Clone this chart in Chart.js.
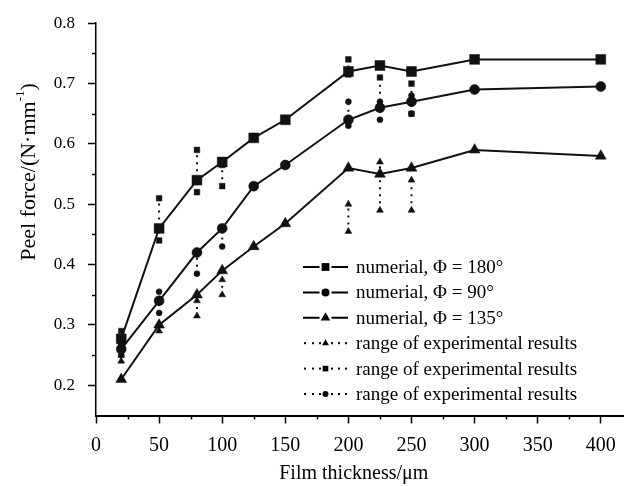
<!DOCTYPE html>
<html><head><meta charset="utf-8">
<script src="https://cdn.jsdelivr.net/npm/chart.js@4.4.0/dist/chart.umd.min.js"></script>
<style>html,body{margin:0;padding:0;background:#fff;}canvas{display:block;}</style>
</head><body>
<canvas id="c" width="631" height="486"></canvas>
<script>
// ---- data ----
const thickness = [20, 50, 80, 100, 125, 150, 200, 225, 250, 300, 400];
const force180 = [0.277, 0.46, 0.54, 0.57, 0.61, 0.64, 0.72, 0.73, 0.72, 0.74, 0.74];
const force90  = [0.26, 0.34, 0.42, 0.46, 0.53, 0.565, 0.64, 0.66, 0.67, 0.69, 0.695];
const force135 = [0.21, 0.30, 0.35, 0.39, 0.43, 0.468, 0.56, 0.55, 0.56, 0.59, 0.58];

const expThickness = [20, 50, 80, 100, 200, 225, 250];
const exp180Min = [0.265, 0.44, 0.52, 0.53, 0.715, 0.66, 0.65];
const exp180Max = [0.29, 0.51, 0.59, 0.565, 0.74, 0.71, 0.70];
const exp90Min  = [0.25, 0.32, 0.385, 0.43, 0.63, 0.64, 0.65];
const exp90Max  = [0.27, 0.355, 0.42, 0.46, 0.67, 0.67, 0.68];
const exp135Min = [0.24, 0.29, 0.315, 0.35, 0.455, 0.49, 0.49];
const exp135Max = [0.25, 0.30, 0.34, 0.375, 0.50, 0.57, 0.54];

const xTicks = [0, 50, 100, 150, 200, 250, 300, 350, 400];
const yTicks = [0.2, 0.3, 0.4, 0.5, 0.6, 0.7, 0.8];
const xTitle = 'Film thickness/\u03bcm';
const yTitle = 'Peel force/(N\u00b7mm';
const yTitleSup = '-1';
const legendLabels = [
  'numerial, \u03a6 = 180\u00b0',
  'numerial, \u03a6 = 90\u00b0',
  'numerial, \u03a6 = 135\u00b0',
  'range of experimental results',
  'range of experimental results',
  'range of experimental results'
];

const FONT = "'Liberation Serif','Times New Roman',serif";

function pairs(xs, ys){ return xs.map((x,i)=>({x:x, y:ys[i]})); }
function ranges(xs, lo, hi){
  const out=[];
  xs.forEach((x,i)=>{ out.push({x:x,y:lo[i]}); out.push({x:x,y:hi[i]}); out.push({x:x,y:null}); });
  return out;
}

const mainStyle = (label, data, style, r) => ({
  label, data, pointStyle: style, pointRadius: r, pointHoverRadius: r,
  borderColor:'#111', backgroundColor:'#111', pointBackgroundColor:'#111', pointBorderColor:'#111',
  borderWidth: 2, pointBorderWidth: 0.5, tension: 0, order: 1
});
const expStyle = (label, data, style, r) => ({
  label, data, pointStyle: style, pointRadius: r, pointHoverRadius: r,
  borderColor:'#111', backgroundColor:'#111', pointBackgroundColor:'#111', pointBorderColor:'#111',
  borderWidth: 2, borderDash:[2,5], pointBorderWidth: 0.5, spanGaps:false, tension:0, order: 2
});

const datasets = [
  mainStyle(legendLabels[0], pairs(thickness, force180), 'rect', 7),
  mainStyle(legendLabels[1], pairs(thickness, force90), 'circle', 5),
  mainStyle(legendLabels[2], pairs(thickness, force135), 'triangle', 6.3),
  expStyle(legendLabels[3], ranges(expThickness, exp135Min, exp135Max), 'triangle', 4),
  expStyle(legendLabels[4], ranges(expThickness, exp180Min, exp180Max), 'rect', 4),
  expStyle(legendLabels[5], ranges(expThickness, exp90Min, exp90Max), 'circle', 3)
];

function marker(ctx, style, x, y, r){
  ctx.beginPath();
  if (style==='rect'){ const s=Math.SQRT1_2*r; ctx.rect(x-s,y-s,2*s,2*s); }
  else if (style==='circle'){ ctx.arc(x,y,r,0,Math.PI*2); }
  else { ctx.moveTo(x, y-r); ctx.lineTo(x+r*0.866, y+r*0.5); ctx.lineTo(x-r*0.866, y+r*0.5); ctx.closePath(); }
  ctx.fill();
}

const decor = {
  id:'decor',
  afterDraw(chart){
    const ctx = chart.ctx, xs = chart.scales.x, ys = chart.scales.y;
    ctx.save();
    ctx.strokeStyle = '#000'; ctx.fillStyle = '#000'; ctx.lineWidth = 1.5;
    // minor ticks
    for (let v=25; v<xs.max; v+=50){
      const px = Math.round(xs.getPixelForValue(v))+0.5;
      ctx.beginPath(); ctx.moveTo(px, ys.bottom); ctx.lineTo(px, ys.bottom+4); ctx.stroke();
    }
    for (let v=0.25; v<0.8; v+=0.1){
      const py = Math.round(ys.getPixelForValue(v))+0.5;
      ctx.beginPath(); ctx.moveTo(xs.left, py); ctx.lineTo(xs.left-4, py); ctx.stroke();
    }
    // axis titles
    ctx.font = '20px ' + FONT; ctx.textAlign='center'; ctx.textBaseline='middle';
    ctx.fillText(xTitle, (xs.left+xs.right)/2 - 6, 474);
    ctx.save();
    ctx.translate(29, 172); ctx.rotate(-Math.PI/2);
    const big = '22px ' + FONT, small = '13px ' + FONT;
    ctx.font = big;
    const w1 = ctx.measureText(yTitle).width;
    ctx.font = small;
    const w2 = ctx.measureText(yTitleSup).width;
    ctx.font = big;
    const w3 = ctx.measureText(')').width;
    const tot = w1+w2+w3; let x0 = -tot/2;
    ctx.textAlign='left';
    ctx.fillText(yTitle, x0, 0);
    ctx.font = small; ctx.fillText(yTitleSup, x0+w1, -8);
    ctx.font = big; ctx.fillText(')', x0+w1+w2, 0);
    ctx.restore();
    // legend
    const lx0 = 303, lx1 = 348, tx = 356, top = 267, gap = 25.4;
    ctx.font = '19px ' + FONT; ctx.textAlign='left'; ctx.textBaseline='middle';
    chart.data.datasets.forEach((ds,i)=>{
      const y = top + i*gap, cx = (lx0+lx1)/2;
      ctx.lineWidth = 2;
      if (i < 3){
        ctx.beginPath(); ctx.moveTo(lx0, y); ctx.lineTo(cx-6, y); ctx.moveTo(cx+6, y); ctx.lineTo(lx1, y); ctx.stroke();
        marker(ctx, ds.pointStyle, cx, y, i===1?4:5.5);
      } else {
        [lx0+2, lx0+10, lx0+17, lx1-16, lx1-9, lx1-2].forEach(dx=>{ ctx.fillRect(dx-1, y-1, 2, 2); });
        marker(ctx, ds.pointStyle, cx, y, ds.pointStyle==='circle'?3:4);
      }
      ctx.fillText(ds.label, tx, y+1);
    });
    ctx.restore();
  }
};

new Chart(document.getElementById('c'), {
  type:'line',
  data:{ datasets },
  plugins:[decor],
  options:{
    responsive:false, animation:false, devicePixelRatio:1,
    layout:{ padding:{ top:19, right:0, left:0, bottom:0 } },
    plugins:{ legend:{display:false}, tooltip:{enabled:false} },
    scales:{
      x:{
        type:'linear', min:0, max:418,
        afterBuildTicks: s => { s.ticks = xTicks.map(v=>({value:v})); },
        afterFit: s => { s.height = 70.5; },
        grid:{ display:true, drawOnChartArea:false, drawTicks:true, tickLength:8, tickWidth:1.5, tickColor:'#000' },
        border:{ display:true, color:'#000', width:2 },
        ticks:{ color:'#000', font:{ family:FONT, size:20 }, padding:10, maxRotation:0, autoSkip:false, callback:v=>String(v) }
      },
      y:{
        type:'linear', min:0.15, max:0.8,
        afterBuildTicks: s => { s.ticks = yTicks.map(v=>({value:v})); },
        afterFit: s => { s.width = 96; },
        grid:{ display:true, drawOnChartArea:false, drawTicks:true, tickLength:8, tickWidth:1.5, tickColor:'#000' },
        border:{ display:true, color:'#000', width:1.5 },
        ticks:{ color:'#000', font:{ family:FONT, size:17 }, padding:13, autoSkip:false, callback:v=>v.toFixed(1) }
      }
    }
  }
});
</script>
</body></html>
